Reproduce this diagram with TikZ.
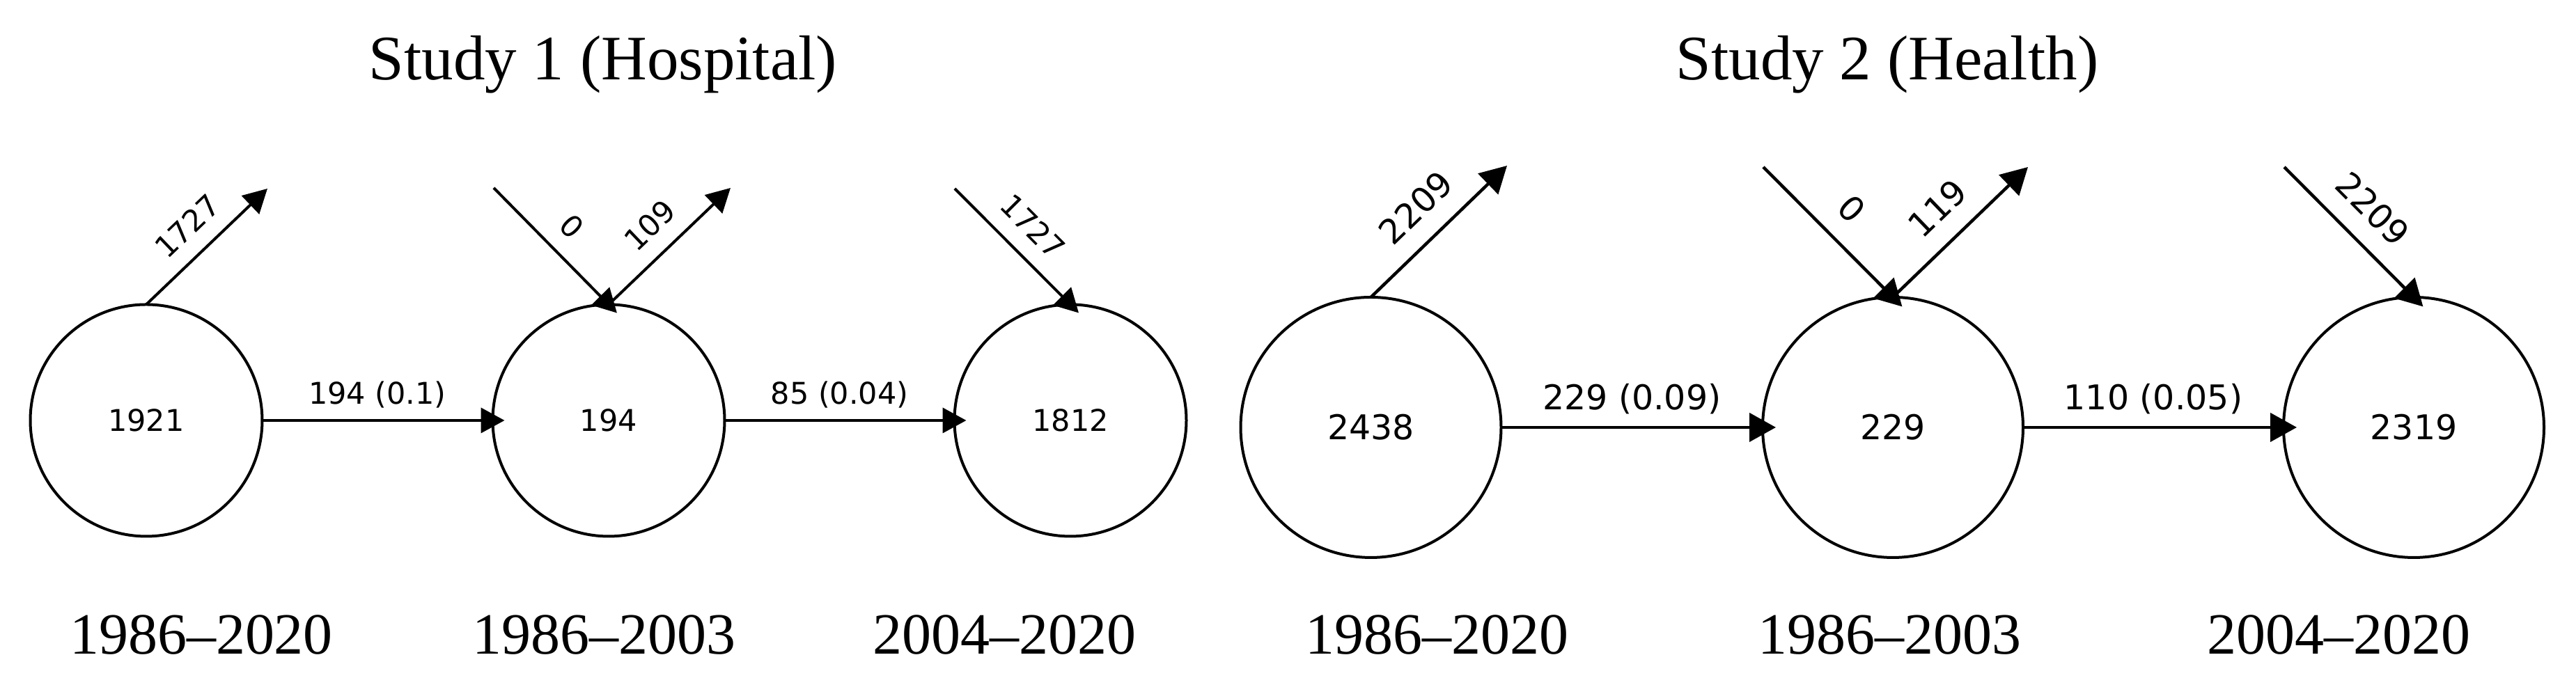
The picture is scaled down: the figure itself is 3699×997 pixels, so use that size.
\documentclass[tikz,border=0pt]{standalone}
\usepackage{fontspec}
\setmainfont{Liberation Serif}
\newfontfamily\gv{DejaVu Sans}
\usetikzlibrary{arrows.meta}
\begin{document}
\begin{tikzpicture}[x=0.1pt,y=-0.1pt,
  stateA/.style={circle,draw,line width=0.4pt,inner sep=0pt,outer sep=0pt,minimum size=33.3pt,font={\gv\fontsize{4.3}{5}\selectfont}},
  stateB/.style={circle,draw,line width=0.4pt,inner sep=0pt,outer sep=0pt,minimum size=37.4pt,font={\gv\fontsize{4.9}{5.6}\selectfont}},
  inA/.style={line width=0.4pt,-{Triangle[length=3.4pt,width=3.6pt]},shorten >=-1.7pt},
  outA/.style={line width=0.4pt,-{Triangle[length=3.4pt,width=3.6pt]}},
  inB/.style={line width=0.45pt,-{Triangle[length=3.8pt,width=4.1pt]},shorten >=-1.9pt},
  outB/.style={line width=0.45pt,-{Triangle[length=3.8pt,width=4.1pt]}},
  labA/.style={font={\gv\fontsize{4.3}{5}\selectfont},inner sep=1pt},
  labB/.style={font={\gv\fontsize{4.9}{5.6}\selectfont},inner sep=1pt},
  ttl/.style={font={\fontsize{9.1}{11}\selectfont},anchor=base,inner sep=0pt},
  yrs/.style={font={\fontsize{8.4}{10}\selectfont},anchor=base,inner sep=0pt}]
\useasboundingbox (0,0) rectangle (3699,997);

% titles
\node[ttl] (t1) at (866,114.4) {Study 1 (Hospital)};
\node[ttl] (t2) at (2710,114.4) {Study 2 (Health)};

% study 1
\node[stateA] (a1) at (210,604) {1921};
\node[stateA] (a2) at (874,604) {194};
\node[stateA] (a3) at (1537,604) {1812};
\coordinate (c1) at (384,271);
\coordinate (c2) at (709,270);
\coordinate (c3) at (1049,270);
\coordinate (c4) at (1371,271);

\draw[inA] (a1) -- node[labA,above=0.55pt] {194 (0.1)} (a2);
\draw[inA] (a2) -- node[labA,above=0.55pt] {85 (0.04)} (a3);
\draw[outA] (a1.north) -- node[labA,sloped,above=1.3pt] {1727} (c1);
\draw[inA] (c2) -- node[labA,sloped,above=1.3pt] {0} (a2.north);
\draw[outA] (a2.north) -- node[labA,sloped,above=1.3pt] {109} (c3);
\draw[inA] (c4) -- node[labA,sloped,above=1.3pt] {1727} (a3.north);

% study 2
\node[stateB] (b1) at (1968.5,614) {2438};
\node[stateB] (b2) at (2718,614) {229};
\node[stateB] (b3) at (3466,614) {2319};
\coordinate (d1) at (2164,238);
\coordinate (d2) at (2532,240);
\coordinate (d3) at (2912,240);
\coordinate (d4) at (3280,240);

\draw[inB] (b1) -- node[labB,above=0.7pt] {229 (0.09)} (b2);
\draw[inB] (b2) -- node[labB,above=0.7pt] {110 (0.05)} (b3);
\draw[outB] (b1.north) -- node[labB,sloped,above=1.7pt] {2209} (d1);
\draw[inB] (d2) -- node[labB,sloped,above=1.7pt] {0} (b2.north);
\draw[outB] (b2.north) -- node[labB,sloped,above=1.7pt] {119} (d3);
\draw[inB] (d4) -- node[labB,sloped,above=1.7pt] {2209} (b3.north);

% periods
\node[yrs] (y1) at (289,940) {1986–2020};
\node[yrs] (y2) at (867,940) {1986–2003};
\node[yrs] (y3) at (1442,940) {2004–2020};
\node[yrs] (y4) at (2063,940) {1986–2020};
\node[yrs] (y5) at (2713,940) {1986–2003};
\node[yrs] (y6) at (3358,940) {2004–2020};
\end{tikzpicture}
\end{document}
